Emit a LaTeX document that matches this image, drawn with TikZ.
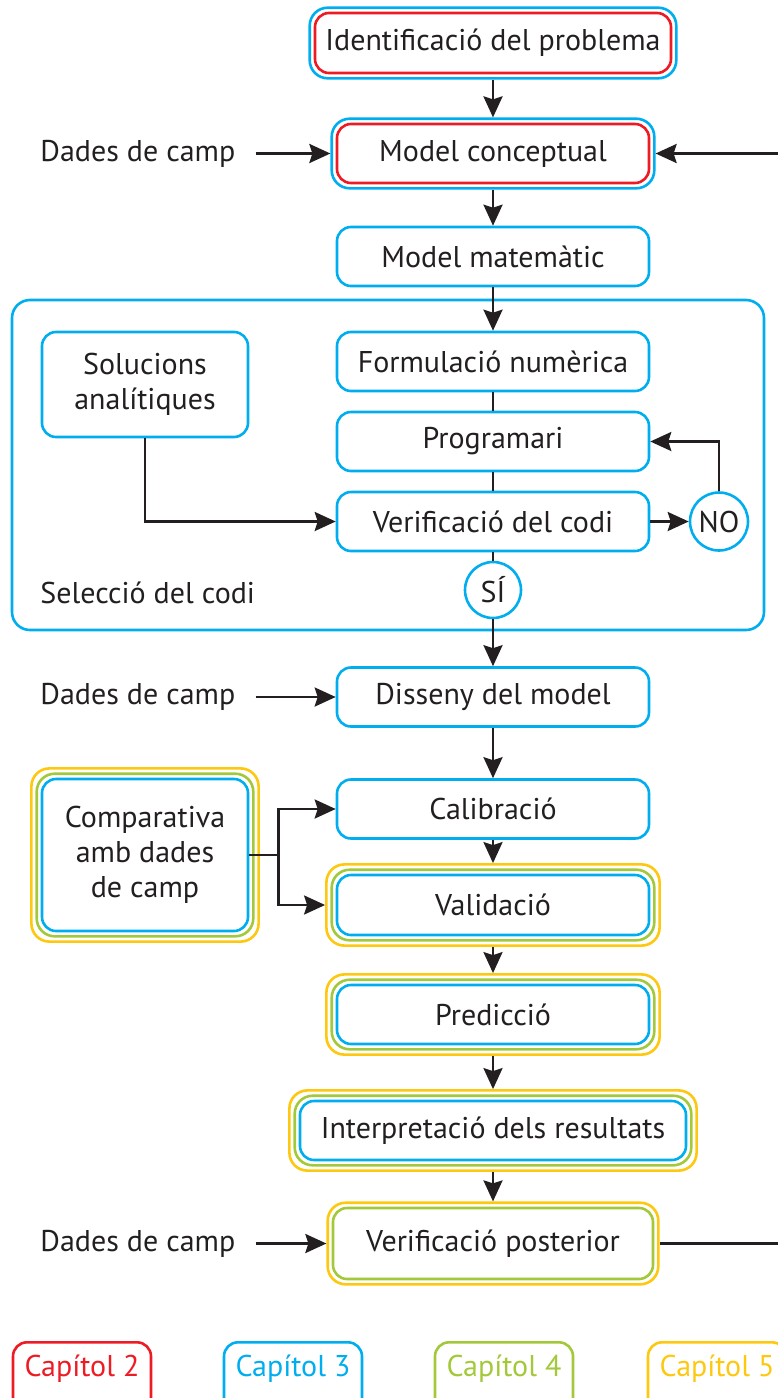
\documentclass[tikz,border=0pt]{standalone}
\usepackage{fontspec}
\setmainfont{PT Sans}
\usetikzlibrary{arrows.meta,fit}
\definecolor{capred}{HTML}{ED1C24}
\definecolor{capblue}{HTML}{00AEEF}
\definecolor{capgreen}{HTML}{A3C93A}
\definecolor{capyellow}{HTML}{FDC80F}
\definecolor{ink}{HTML}{231F20}
\newcommand{\boxfont}{\fontsize{15}{17.5}\selectfont}
\tikzset{
  box/.style={draw=capblue,line width=1.3pt,rounded corners=7pt,fill=white,text=ink,font=\boxfont,
    minimum width=156pt,minimum height=29.5pt,inner sep=0pt,align=center},
  redbox/.style={box,draw=capred},
  greenbox/.style={box,draw=capgreen},
  ring/.style={draw=#1,line width=1.3pt,rounded corners=9pt,inner sep=2pt},
  choice/.style={circle,draw=capblue,line width=1.3pt,fill=white,text=ink,font=\boxfont,inner sep=0pt},
  lbl/.style={text=ink,font=\boxfont,anchor=west,inner sep=0pt},
  legend/.style={draw=#1,text=#1,line width=1.3pt,rounded corners=7pt,font=\boxfont,anchor=north,
    minimum width=69pt,inner xsep=0pt,inner ysep=0pt,text height=17pt,text depth=18pt},
  flow/.style={line width=1.3pt,draw=ink},
}
\begin{document}
\begin{tikzpicture}[x=0.5pt,y=-0.5pt,line cap=butt,line join=miter,>={Stealth[length=10.5pt,width=9.5pt,inset=1.5pt]}]
  \useasboundingbox (0,0) rectangle (777,1398);
  \node[draw=capblue,line width=1.3pt,rounded corners=9pt,minimum width=376pt,minimum height=165pt] (selbox) at (388,465) {};
  \node[lbl] (selcodi) at (40,593) {Selecció del codi};

  \node[redbox,minimum width=178pt,minimum height=30pt] (ident) at (493,43) {Identificació del problema};
  \node[ring=capblue,fit=(ident)] (identB) {};
  \node[redbox] (mc) at (493,153.5) {Model conceptual};
  \node[ring=capblue,fit=(mc)] (mcB) {};
  \node[box] (mm) at (493,256.5) {Model matemàtic};
  \node[box] (form) at (493,361.5) {Formulació numèrica};
  \node[box] (prog) at (493,441.5) {Programari};
  \node[box] (vcodi) at (493,521.5) {Verificació del codi};
  \node[box,minimum width=103pt,minimum height=52.5pt] (sol) at (145,384.5) {Solucions\\analítiques};
  \node[choice,minimum size=29pt] (no) at (719,521.5) {NO};
  \node[choice,minimum size=28pt] (si) at (493,590) {SÍ};
  \node[box] (dis) at (493,697) {Disseny del model};
  \node[box] (calib) at (493,809) {Calibració};
  \node[box,minimum height=30pt] (valid) at (493,905) {Validació};
  \node[ring=capgreen,fit=(valid)] (validG) {};
  \node[ring=capyellow,fit=(validG)] (validY) {};
  \node[box,minimum width=103pt,minimum height=76pt] (comp) at (145,855) {Comparativa\\amb dades\\de camp};
  \node[ring=capgreen,fit=(comp)] (compG) {};
  \node[ring=capyellow,fit=(compG)] (compY) {};
  \node[box] (pred) at (493,1014.5) {Predicció};
  \node[ring=capgreen,fit=(pred)] (predG) {};
  \node[ring=capyellow,fit=(predG)] (predY) {};
  \node[box,minimum width=193pt] (interp) at (493,1130.5) {Interpretació dels resultats};
  \node[ring=capgreen,fit=(interp)] (interpG) {};
  \node[ring=capyellow,fit=(interpG)] (interpY) {};
  \node[greenbox,minimum width=160pt,minimum height=35.5pt] (vpost) at (493,1243.5) {Verificació posterior};
  \node[ring=capyellow,fit=(vpost)] (vpostY) {};

  \node[lbl] (dades1) at (40,153.5) {Dades de camp};
  \node[lbl] (dades2) at (40,697) {Dades de camp};
  \node[lbl] (dades3) at (40,1243.5) {Dades de camp};

  \draw[flow,->] (identB) -- (mcB);
  \draw[flow,->] (mcB) -- (mm);
  \draw[flow,->] (mm) -- (form);
  \draw[flow] (form) -- (prog);
  \draw[flow] (prog) -- (vcodi);
  \draw[flow,->] (sol.south) |- (vcodi.west);
  \draw[flow,->] (vcodi) -- (no);
  \draw[flow,->] (no.north) |- (prog.east);
  \draw[flow] (vcodi) -- (si);
  \draw[flow,->] (si) -- (dis);
  \draw[flow,->] (dis) -- (calib);
  \draw[flow,->] (calib) -- (validY);
  \draw[flow] (comp.east) -- ++(29,0) coordinate (branch);
  \draw[flow,->] (branch) |- (calib.west);
  \draw[flow,->] (branch) |- (validY.west);
  \draw[flow,->] (validY) -- (predY);
  \draw[flow,->] (predY) -- (interpY);
  \draw[flow,->] (interpY) -- (vpostY);
  \draw[flow,->,shorten <=10pt] (dades1.east) -- (mcB.west);
  \draw[flow,->,shorten <=10pt] (dades2.east) -- (dis.west);
  \draw[flow,->,shorten <=10pt] (dades3.east) -- (vpostY.west);
  \draw[flow,->] (vpostY.east) -- ++(160,0) |- (mcB.east);

  \node[legend=capred] (cap2) at (82,1341) {Capítol 2};
  \node[legend=capblue] (cap3) at (293,1341) {Capítol 3};
  \node[legend=capgreen] (cap4) at (504,1341) {Capítol 4};
  \node[legend=capyellow] (cap5) at (717,1341) {Capítol 5};
\end{tikzpicture}
\end{document}
